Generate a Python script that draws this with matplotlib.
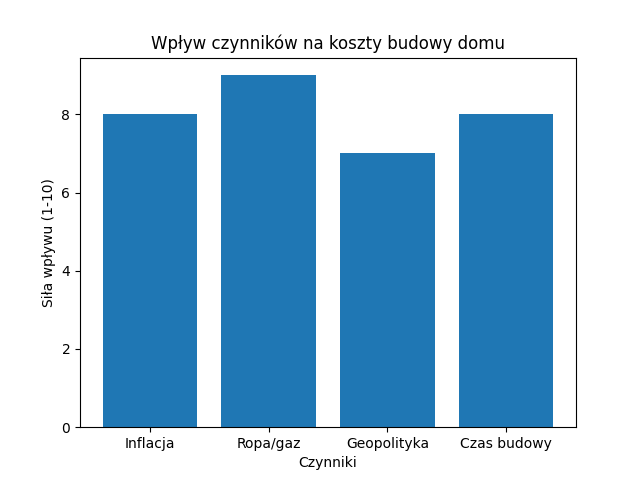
import matplotlib
matplotlib.use("Agg")
import matplotlib.pyplot as plt

factors = ["Inflacja", "Ropa/gaz", "Geopolityka", "Czas budowy"]
impact = [8, 9, 7, 8]

fig, ax = plt.subplots(figsize=(6.4, 4.8), dpi=100)
ax.bar(factors, impact)
ax.set_title("Wpływ czynników na koszty budowy domu")
ax.set_xlabel("Czynniki")
ax.set_ylabel("Siła wpływu (1-10)")
fig.savefig("out.png")
